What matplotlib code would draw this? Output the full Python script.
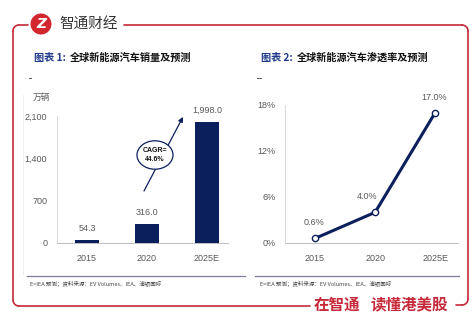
import matplotlib
matplotlib.use("Agg")
import numpy as np
import matplotlib.pyplot as plt
from matplotlib.patches import Ellipse
from matplotlib.lines import Line2D

# ---- data ----
years = ["2015", "2020", "2025E"]
sales = [54.3, 316.0, 1998.0]            # 万辆
sales_labels = ["54.3", "316.0", "1,998.0"]
sales_ticks = [0, 700, 1400, 2100]
sales_tick_labels = ["0", "700", "1,400", "2,100"]
penetration = [0.6, 4.0, 17.0]           # %
pen_labels = ["0.6%", "4.0%", "17.0%"]
pen_ticks = [0, 6, 12, 18]
pen_tick_labels = ["0%", "6%", "12%", "18%"]
cagr_text = "CAGR=\n44.6%"

title1_head, title1_body = "图表 1:", "全球新能源汽车销量及预测"
title2_head, title2_body = "图表 2:", "全球新能源汽车渗透率及预测"
unit_label = "万辆"
footnote = "E=IEA 预测；资料来源：EV Volumes、IEA、浦银国际"
brand = "智通财经"
slogan_parts = ["在智通", "读懂港美股"]

NAVY = "#0b1f5c"
RED = "#c62a3a"
GRAY = "#595959"
CJK = ["Noto Sans CJK SC", "DejaVu Sans"]
NUM = ["Liberation Sans Narrow", "Liberation Sans", "DejaVu Sans"]

W, H = 476, 329
fig = plt.figure(figsize=(W / 100, H / 100), dpi=100)
fig.patch.set_facecolor("white")


def fx(x):
    return x / W


def fy(y):
    return 1 - y / H


def axes_px(x0, y0, x1, y1):
    return fig.add_axes([fx(x0), fy(y1), (x1 - x0) / W, (y1 - y0) / H])


# ---- decorative frame ----
def fline(xs, ys, **kw):
    fig.add_artist(Line2D([fx(v) for v in xs], [fy(v) for v in ys],
                          transform=fig.transFigure, **kw))

fkw = dict(color=RED, lw=1.2, solid_capstyle="round", solid_joinstyle="round")
r = 6
fline([28, 13 + r], [25, 25], **fkw)
fline([13, 13], [25 + r, 306 - r], **fkw)
fline([13 + r, 310], [306, 306], **fkw)
fline([124, 468 - r], [25, 25], **fkw)
fline([468, 468], [25 + r, 299], **fkw)
fline([456, 468 - r], [305, 305], **fkw)


def corner(cx, cy, a0, a1):
    t = np.radians(np.linspace(a0, a1, 12))
    fline(cx + r * np.cos(t), cy - r * np.sin(t), **fkw)


corner(13 + r, 25 + r, 90, 180)
corner(13 + r, 306 - r, 180, 270)
corner(468 - r, 25 + r, 0, 90)
corner(468 - r, 299, 270, 360)

# logo
logo = Ellipse((fx(41), fy(24)), 21 / W, 21 / H, transform=fig.transFigure,
               facecolor="#d3272f", edgecolor="none")
fig.add_artist(logo)
fig.text(fx(41), fy(24.5), "Z", color="white", fontsize=10, fontweight="bold",
         fontstyle="italic", ha="center", va="center", family=["DejaVu Sans"])
fig.text(fx(59), fy(25), brand, color="#333333", fontsize=10.5,
         ha="left", va="center", family=CJK)
for x0, part in zip([314, 371], slogan_parts):
    fig.text(fx(x0), fy(305), part, color=RED, fontsize=11.2, fontweight="bold",
             ha="left", va="center", family=CJK)

# titles
for x0, head, body in [(34, title1_head, title1_body), (261, title2_head, title2_body)]:
    t = fig.text(fx(x0), fy(58), head, color="#1f3a8a", fontsize=7.3,
                 fontweight="bold", ha="left", va="center", family=CJK)
    fig.canvas.draw()
    bb = t.get_window_extent()
    fig.text(bb.x1 / W + 4 / W, fy(58), body, color="#111111", fontsize=7.3,
             fontweight="bold", ha="left", va="center", family=CJK)

# small marks under titles
fline([29, 31], [78, 78], color="#333333", lw=0.6)
fline([257, 261], [78, 78], color="#333333", lw=0.6)

# panel separators and footnotes
fline([27, 245], [276, 276], color="#7b7b9b", lw=0.9)
fline([255, 459], [276, 276], color="#7b7b9b", lw=0.9)
fline([23, 23], [95, 274], color="#ececec", lw=0.6)
fig.text(fx(30), fy(284), footnote, fontsize=4.0, color="#444444",
         ha="left", va="center", family=CJK)
fig.text(fx(260), fy(284), footnote, fontsize=4.0, color="#444444",
         ha="left", va="center", family=CJK)


def style_axes(ax):
    for s in ["top", "right"]:
        ax.spines[s].set_visible(False)
    ax.spines["left"].set_color("#d9d9d9")
    ax.spines["bottom"].set_color("#bfbfbf")
    ax.spines["left"].set_linewidth(0.7)
    ax.spines["bottom"].set_linewidth(0.7)
    ax.tick_params(length=0, colors=GRAY, labelsize=6.5, pad=8)
    for lab in ax.get_xticklabels() + ax.get_yticklabels():
        lab.set_family(NUM)
    ax.set_facecolor("none")


# ---- chart 1: sales bars ----
x = np.arange(len(years))
ax1 = axes_px(57, 116, 228, 243)
ax1.bar(x, sales, width=0.4, color=NAVY, zorder=2)
ax1.set_xlim(-0.5, 2.35)
ax1.set_ylim(0, 2100)
ax1.set_yticks(sales_ticks)
ax1.set_yticklabels(sales_tick_labels)
ax1.set_xticks(x)
ax1.set_xticklabels(years)
style_axes(ax1)
ax1.tick_params(axis="y", pad=7)
for xi, v, lab in zip(x, sales, sales_labels):
    ax1.annotate(lab, (xi, v), xytext=(0, 5), textcoords="offset points",
                 ha="center", va="bottom", fontsize=6.5, color=GRAY,
                 family=NUM, annotation_clip=False)
fig.text(fx(33), fy(97), unit_label, fontsize=6.3, color=GRAY,
         ha="left", va="center", family=CJK)

# CAGR arrow and badge
ax1.annotate("", xy=(1.6, 2085), xytext=(0.95, 860),
             arrowprops=dict(arrowstyle="-|>", color=NAVY, lw=0.9,
                             mutation_scale=7, shrinkA=0, shrinkB=0),
             annotation_clip=False, zorder=3)
ax1.add_patch(Ellipse((1.133, 1455), 0.6, 470, facecolor="white",
                      edgecolor=NAVY, lw=0.9, zorder=4, clip_on=False))
ax1.text(1.133, 1455, cagr_text, ha="center", va="center", fontsize=5,
         fontweight="bold", color="#111111", zorder=5, family=NUM,
         linespacing=1.5)

# ---- chart 2: penetration line ----
ax2 = axes_px(285, 105, 458, 243)
ax2.plot(x, penetration, color=NAVY, lw=2.2, marker="o", markersize=4.5,
         markerfacecolor="white", markeredgecolor=NAVY, markeredgewidth=1.0,
         zorder=3, clip_on=False)
ax2.set_xlim(-0.5, 2.38)
ax2.set_ylim(0, 18)
ax2.set_yticks(pen_ticks)
ax2.set_yticklabels(pen_tick_labels)
ax2.set_xticks(x)
ax2.set_xticklabels(years)
style_axes(ax2)
ax2.tick_params(axis="y", pad=7)
offsets = [(-1, 8), (-6, 8), (-1, 8)]
for xi, v, lab, off in zip(x, penetration, pen_labels, offsets):
    ax2.annotate(lab, (xi, v), xytext=off, textcoords="offset points",
                 ha="center", va="bottom", fontsize=6.5, color=GRAY,
                 family=NUM, annotation_clip=False)

fig.savefig("out.png", dpi=100, facecolor="white")
